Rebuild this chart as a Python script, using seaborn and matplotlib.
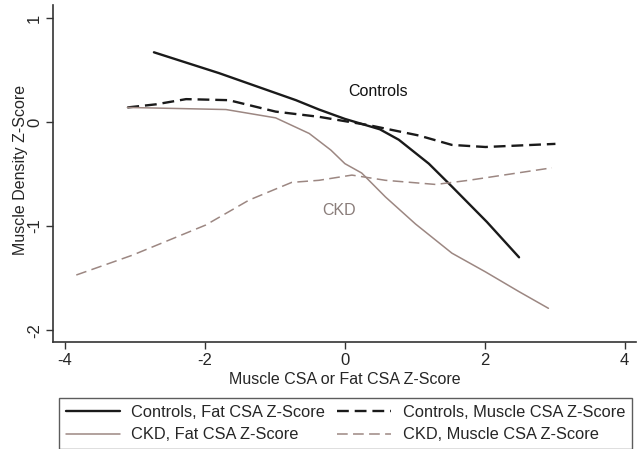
import matplotlib
matplotlib.use("Agg")
import matplotlib.pyplot as plt
import seaborn as sns
import pandas as pd
from matplotlib.lines import Line2D

sns.set_theme(style="white")
plt.rcParams['font.family'] = ['Liberation Sans', 'DejaVu Sans']

# Controls, Fat CSA Z-Score
ctrl_fat_x = [-2.73, -1.8, -0.7, -0.37, 0.0, 0.1, 0.5, 0.77, 1.2, 1.53, 2.03, 2.49]
ctrl_fat_y = [0.67, 0.47, 0.21, 0.12, 0.03, 0.01, -0.07, -0.17, -0.40, -0.62, -0.96, -1.30]

# Controls, Muscle CSA Z-Score
ctrl_mus_x = [-3.11, -2.7, -2.27, -1.66, -0.99, -0.37, 0.34, 1.06, 1.53, 2.01, 3.01]
ctrl_mus_y = [0.14, 0.17, 0.22, 0.21, 0.10, 0.05, -0.03, -0.13, -0.22, -0.24, -0.21]

# CKD, Fat CSA Z-Score
ckd_fat_x = [-3.11, -1.7, -0.99, -0.51, -0.2, 0.0, 0.24, 0.58, 1.01, 1.53, 2.01, 2.49, 2.91]
ckd_fat_y = [0.14, 0.12, 0.04, -0.11, -0.27, -0.40, -0.49, -0.72, -0.98, -1.26, -1.44, -1.63, -1.79]

# CKD, Muscle CSA Z-Score
ckd_mus_x = [-3.84, -3.04, -1.99, -1.37, -0.76, -0.37, 0.1, 0.58, 1.3, 1.77, 2.96]
ckd_mus_y = [-1.47, -1.28, -0.99, -0.75, -0.58, -0.56, -0.51, -0.56, -0.60, -0.56, -0.44]

x_ticks = [-4, -2, 0, 2, 4]
y_ticks = [-2, -1, 0, 1]

series = [
    ("Controls, Fat CSA Z-Score", ctrl_fat_x, ctrl_fat_y),
    ("Controls, Muscle CSA Z-Score", ctrl_mus_x, ctrl_mus_y),
    ("CKD, Fat CSA Z-Score", ckd_fat_x, ckd_fat_y),
    ("CKD, Muscle CSA Z-Score", ckd_mus_x, ckd_mus_y),
]
frames = [pd.DataFrame({"x": xs, "y": ys, "series": name}) for name, xs, ys in series]
df = pd.concat(frames, ignore_index=True)

CTRL = "#1a1a1a"
CKD = "#9c8782"
styles = {
    "Controls, Fat CSA Z-Score": dict(color=CTRL, lw=1.7, dashes=None),
    "Controls, Muscle CSA Z-Score": dict(color=CTRL, lw=1.7, dashes=(5, 2.5)),
    "CKD, Fat CSA Z-Score": dict(color=CKD, lw=1.1, dashes=None),
    "CKD, Muscle CSA Z-Score": dict(color=CKD, lw=1.1, dashes=(7, 3.5)),
}

fig = plt.figure(figsize=(6.41, 4.49), dpi=100)
ax = fig.add_axes([0.083, 0.238, 0.909, 0.751])

handles = []
for name, _, _ in series:
    st = styles[name]
    sub = df[df["series"] == name]
    sns.lineplot(data=sub, x="x", y="y", ax=ax, color=st["color"], lw=st["lw"],
                 sort=False, estimator=None, legend=False)
    line = ax.get_lines()[-1]
    if st["dashes"]:
        line.set_dashes(st["dashes"])
    h = Line2D([], [], color=st["color"], lw=st["lw"])
    if st["dashes"]:
        h.set_dashes(st["dashes"])
    handles.append(h)

ax.set_xlim(-4.17, 4.16)
ax.set_ylim(-2.115, 1.125)
ax.set_xticks(x_ticks)
ax.set_yticks(y_ticks)
ax.set_xticklabels([str(t) for t in x_ticks], fontsize=12)
ax.set_yticklabels([str(t) for t in y_ticks], fontsize=12, rotation=90, va="center")
ax.tick_params(axis="both", direction="out", length=5, width=1, color="#333333",
               bottom=True, left=True, pad=3)
for s in ["top", "right"]:
    ax.spines[s].set_visible(False)
for s in ["left", "bottom"]:
    ax.spines[s].set_color("#333333")
    ax.spines[s].set_linewidth(1.2)

ax.set_xlabel("Muscle CSA or Fat CSA Z-Score", fontsize=11.5, labelpad=3)
ax.set_ylabel("Muscle Density Z-Score", fontsize=11.5)
ax.yaxis.set_label_coords(-0.044, 0.51)

ax.text(0.47, 0.29, "Controls", fontsize=11.5, color="#111111", ha="center", va="center")
ax.text(-0.08, -0.85, "CKD", fontsize=11.5, color="#8a7d7a", ha="center", va="center")

# legend order: row-wise in 2 columns
order = [0, 2, 1, 3]
leg = fig.legend([handles[i] for i in order], [series[i][0] for i in order],
                 loc="upper left", bbox_to_anchor=(0.092, -0.2, 0.894, 0.3136),
                 mode="expand", ncol=2, fontsize=11.8, frameon=True, fancybox=False,
                 handlelength=3.3, handletextpad=0.7, columnspacing=0.3,
                 borderpad=0.42, labelspacing=0.45, borderaxespad=0)
leg.get_frame().set_edgecolor("#333333")
leg.get_frame().set_linewidth(1.0)

fig.savefig("out.png", dpi=100)
